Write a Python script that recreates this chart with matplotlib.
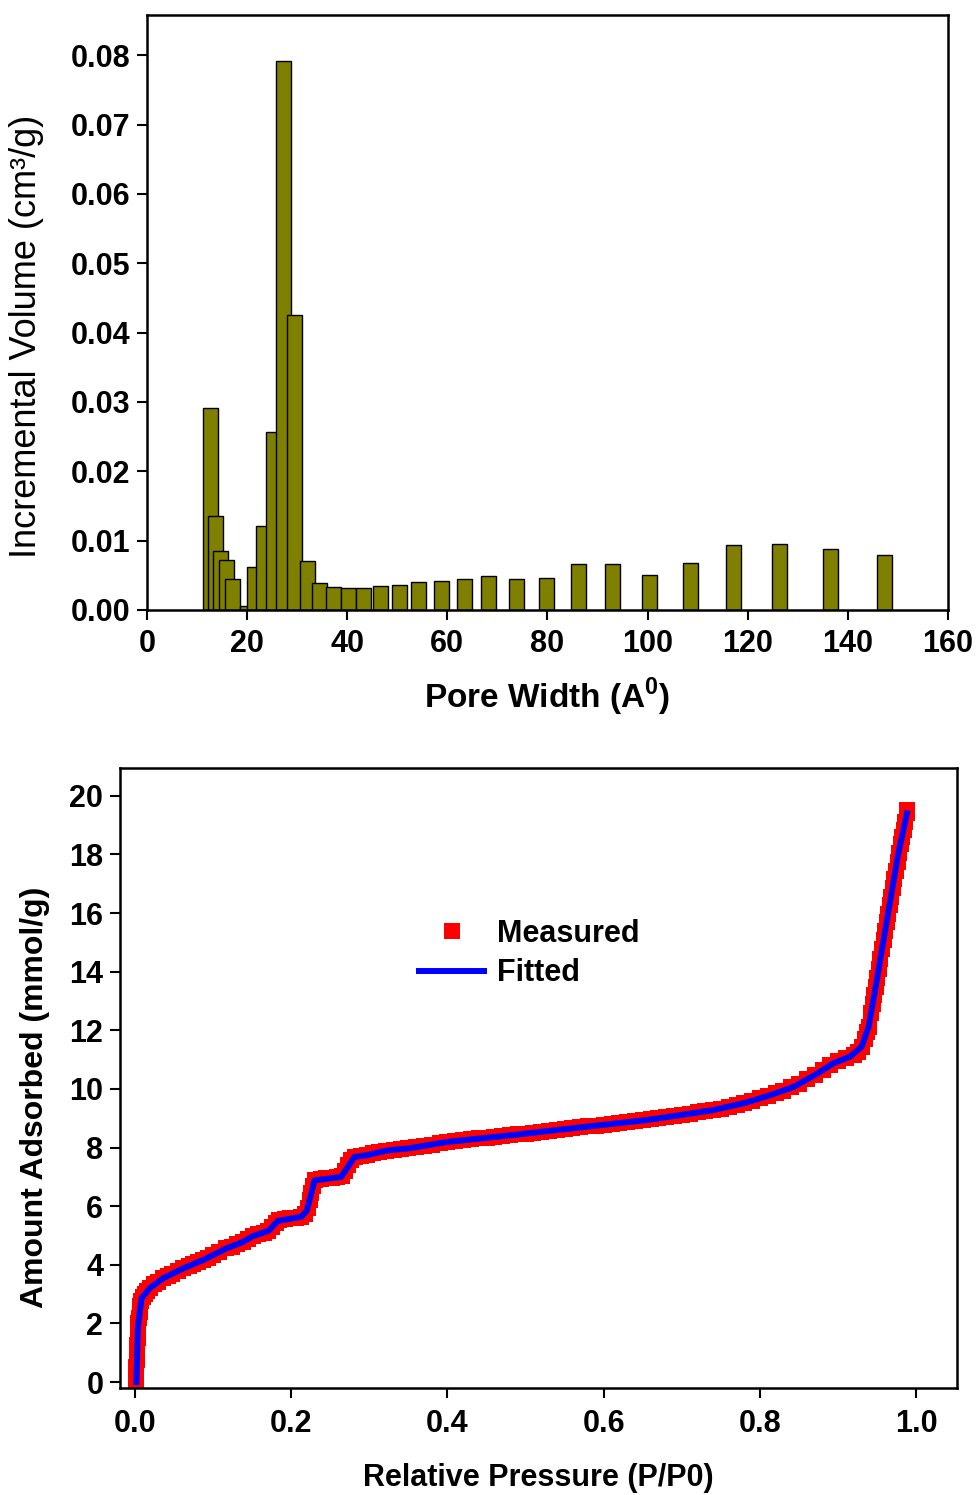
import matplotlib
matplotlib.use('Agg')
import matplotlib.pyplot as plt

plt.rcParams['font.family'] = ['Liberation Sans', 'DejaVu Sans']
plt.rcParams['mathtext.fontset'] = 'custom'
plt.rcParams['mathtext.rm'] = 'Liberation Sans'
plt.rcParams['mathtext.bf'] = 'Liberation Sans:bold'

# Pore size distribution
pore_width = [12.7, 13.6, 14.7, 15.9, 17.1, 20.1, 21.5, 23.3, 25.2, 27.3, 29.5,
              32.0, 34.5, 37.2, 40.2, 43.2, 46.6, 50.4, 54.3, 58.8, 63.4, 68.3,
              73.9, 79.8, 86.2, 93.0, 100.4, 108.5, 117.1, 126.3, 136.5, 147.4]
inc_volume = [0.0291, 0.01355, 0.0085, 0.0072, 0.00447, 0.0005, 0.00624, 0.01215,
              0.0256, 0.0791, 0.0425, 0.00706, 0.00394, 0.0033, 0.0031, 0.0031,
              0.00346, 0.0036, 0.00403, 0.00413, 0.00451, 0.0049, 0.00451, 0.00466,
              0.00668, 0.00658, 0.00509, 0.00672, 0.00932, 0.00956, 0.00874, 0.00797]

# Isotherm, measured points
meas_p = [0.002, 0.002, 0.002, 0.0025, 0.003, 0.003, 0.0035, 0.004, 0.0045, 0.005,
          0.006, 0.007, 0.008, 0.010, 0.013, 0.016, 0.020, 0.025, 0.030, 0.036,
          0.042, 0.048, 0.055, 0.062, 0.069, 0.075, 0.081, 0.087, 0.094, 0.100,
          0.108, 0.117, 0.124, 0.131, 0.139, 0.145, 0.151, 0.158, 0.165, 0.171,
          0.176, 0.180, 0.185, 0.192, 0.199, 0.206, 0.213, 0.218, 0.221, 0.224,
          0.226, 0.228, 0.231, 0.238, 0.245, 0.252, 0.259, 0.265, 0.269, 0.273,
          0.277, 0.282, 0.289, 0.297, 0.305, 0.313, 0.322, 0.331, 0.34, 0.35,
          0.36, 0.37, 0.38, 0.39, 0.40, 0.41, 0.42, 0.43, 0.44, 0.45,
          0.46, 0.47, 0.48, 0.49, 0.50, 0.51, 0.52, 0.53, 0.54, 0.55,
          0.56, 0.57, 0.58, 0.59, 0.60, 0.61, 0.62, 0.63, 0.64, 0.65,
          0.66, 0.67, 0.68, 0.69, 0.70, 0.71, 0.72, 0.73, 0.74, 0.75,
          0.76, 0.77, 0.78, 0.79, 0.80, 0.81, 0.82, 0.83, 0.84, 0.85,
          0.86, 0.87, 0.88, 0.89, 0.90, 0.91, 0.92, 0.925, 0.930, 0.934,
          0.937, 0.939, 0.942, 0.944, 0.946, 0.948, 0.950, 0.952, 0.954, 0.956,
          0.958, 0.960, 0.962, 0.964, 0.966, 0.968, 0.970, 0.972, 0.974, 0.976,
          0.978, 0.980, 0.982, 0.984, 0.986, 0.988, 0.988]
meas_v = [0.0, 0.25, 0.5, 0.75, 1.0, 1.25, 1.5, 1.75, 2.0, 2.2,
          2.4, 2.6, 2.75, 2.9, 3.02, 3.12, 3.22, 3.33, 3.43, 3.54,
          3.62, 3.70, 3.79, 3.88, 3.95, 4.02, 4.09, 4.16, 4.25, 4.33,
          4.44, 4.56, 4.62, 4.70, 4.79, 4.88, 4.97, 5.04, 5.10, 5.16,
          5.30, 5.42, 5.52, 5.56, 5.59, 5.61, 5.64, 5.75, 5.95, 6.2,
          6.45, 6.7, 6.88, 6.92, 6.95, 6.97, 6.99, 7.02, 7.2, 7.4,
          7.58, 7.69, 7.71, 7.74, 7.80, 7.85, 7.90, 7.92, 7.95, 7.98,
          8.02, 8.06, 8.10, 8.15, 8.19, 8.22, 8.25, 8.29, 8.32, 8.34,
          8.37, 8.40, 8.42, 8.45, 8.48, 8.51, 8.54, 8.57, 8.60, 8.63,
          8.66, 8.69, 8.72, 8.75, 8.78, 8.81, 8.84, 8.87, 8.90, 8.93,
          8.96, 9.00, 9.04, 9.08, 9.12, 9.16, 9.20, 9.24, 9.28, 9.33,
          9.39, 9.45, 9.52, 9.60, 9.68, 9.76, 9.85, 9.94, 10.05, 10.18,
          10.33, 10.49, 10.65, 10.82, 10.95, 11.05, 11.15, 11.27, 11.44, 11.7,
          11.95, 12.13, 12.6, 12.9, 13.2, 13.49, 13.8, 14.1, 14.45, 14.77,
          15.08, 15.4, 15.7, 15.98, 16.27, 16.55, 16.85, 17.15, 17.45, 17.75,
          18.05, 18.35, 18.6, 18.85, 19.1, 19.4, 19.5]

# Isotherm, fitted curve
fit_p = [0.002, 0.003, 0.004, 0.0085, 0.019, 0.036, 0.062, 0.087, 0.117, 0.139,
         0.151, 0.171, 0.183, 0.213, 0.220, 0.230, 0.264, 0.281, 0.297, 0.322,
         0.352, 0.399, 0.484, 0.570, 0.655, 0.698, 0.740, 0.783, 0.813, 0.843,
         0.873, 0.894, 0.915, 0.930, 0.939, 0.948, 0.958, 0.969, 0.977, 0.988]
fit_v = [0.0, 1.0, 1.89, 2.86, 3.2, 3.54, 3.88, 4.16, 4.56, 4.79,
         4.98, 5.16, 5.5, 5.64, 5.85, 6.88, 7.0, 7.68, 7.74, 7.9,
         7.98, 8.19, 8.43, 8.69, 8.94, 9.11, 9.28, 9.54, 9.79, 10.07,
         10.52, 10.88, 11.1, 11.44, 12.13, 13.49, 15.08, 16.8, 18.04, 19.4]

fig = plt.figure(figsize=(9.78, 14.95), dpi=100)

def style(ax):
    for s in ax.spines.values():
        s.set_linewidth(1.8)
    ax.tick_params(direction='out', length=7, width=1.5, labelsize=22)
    for lab in ax.get_xticklabels() + ax.get_yticklabels():
        lab.set_fontweight('bold')

# top: pore size distribution
ax1 = fig.add_axes([0.1503, 0.592, 0.819, 0.398])
ax1.bar(pore_width, inc_volume, width=3.0, color='#808000', edgecolor='black', linewidth=1.0)
ax1.set_xlim(0, 160)
ax1.set_ylim(0, 0.0858)
ax1.set_xticks(range(0, 161, 20))
ax1.set_yticks([0.00, 0.01, 0.02, 0.03, 0.04, 0.05, 0.06, 0.07, 0.08])
ax1.set_yticklabels(['0.00', '0.01', '0.02', '0.03', '0.04', '0.05', '0.06', '0.07', '0.08'])
style(ax1)
ax1.tick_params(axis='x', pad=7)
ax1.tick_params(axis='y', pad=5)
ax1.set_xlabel(r'Pore Width (A$^{\mathbf{0}}$)', fontsize=24, fontweight='bold', va='center')
ax1.xaxis.set_label_coords(0.5, -0.146)
ax1.set_ylabel('Incremental Volume (cm³/g)', fontsize=26, va='center', ha='center')
ax1.yaxis.set_label_coords(-0.150, 0.459)

# bottom: isotherm
ax2 = fig.add_axes([0.1227, 0.0716, 0.8558, 0.4147])
ax2.plot(meas_p, meas_v, 's', color='#ff0000', markersize=11.5, markeredgewidth=0, label='Measured')
ax2.plot(fit_p, fit_v, '-', color='#0000ff', linewidth=4.3, label='Fitted')
ax2.set_xlim(-0.019, 1.052)
ax2.set_ylim(-0.2, 20.95)
ax2.set_xticks([0.0, 0.2, 0.4, 0.6, 0.8, 1.0])
ax2.set_xticklabels(['0.0', '0.2', '0.4', '0.6', '0.8', '1.0'])
ax2.set_yticks(range(0, 21, 2))
style(ax2)
ax2.tick_params(axis='x', pad=8)
ax2.tick_params(axis='y', pad=5)
ax2.set_xlabel('Relative Pressure (P/P0)', fontsize=22, fontweight='bold', va='center')
ax2.xaxis.set_label_coords(0.5, -0.145)
ax2.set_ylabel('Amount Adsorbed (mmol/g)', fontsize=23, fontweight='bold', va='center', ha='center')
ax2.yaxis.set_label_coords(-0.1016, 0.4685)
ax2.legend(loc='upper left', bbox_to_anchor=(0.3395, 0.781), frameon=False, numpoints=1,
           borderpad=0, handlelength=2.1, handletextpad=0.45, labelspacing=0.3,
           prop={'size': 22, 'weight': 'bold'})

plt.savefig('out.png', dpi=100)
